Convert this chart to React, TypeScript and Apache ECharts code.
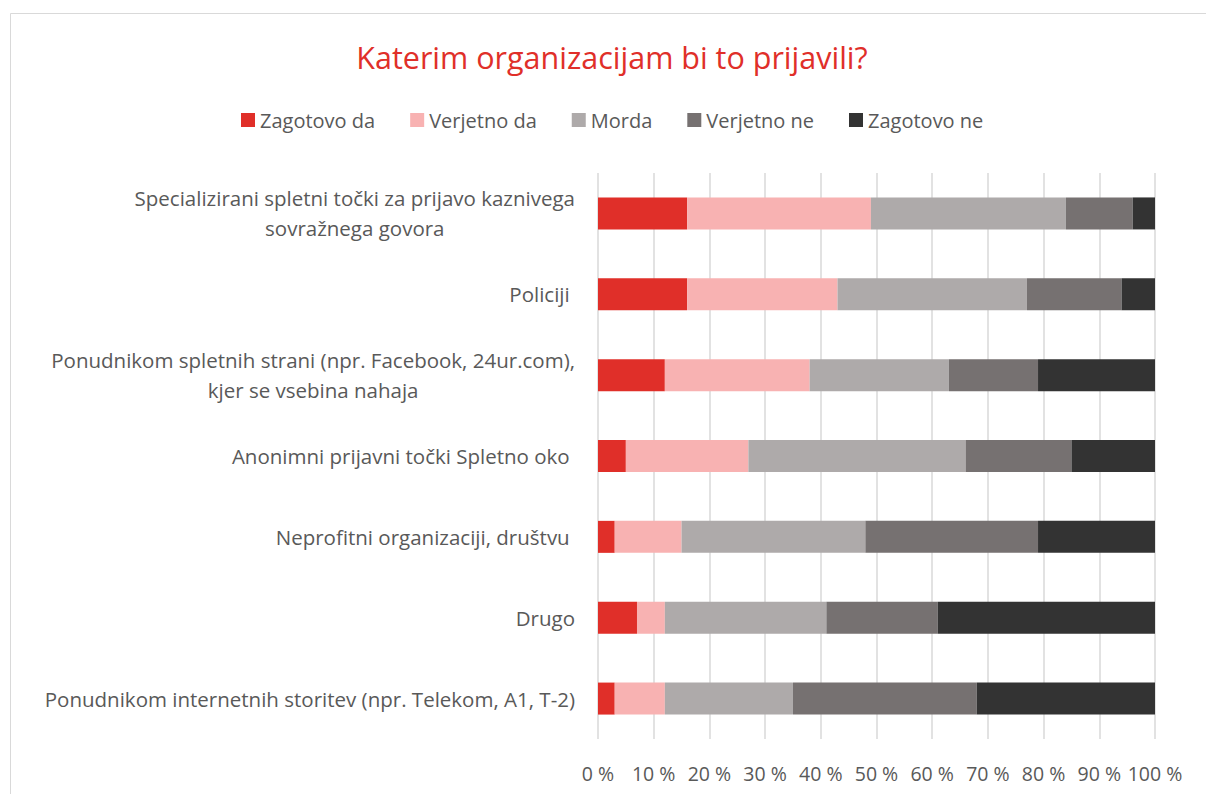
import React, { useEffect, useRef } from "react";
import * as echarts from "echarts";

const categories = [
  "Specializirani spletni točki za prijavo kaznivega\nsovražnega govora",
  "Policiji ",
  "Ponudnikom spletnih strani (npr. Facebook, 24ur.com),\nkjer se vsebina nahaja",
  "Anonimni prijavni točki Spletno oko ",
  "Neprofitni organizaciji, društvu ",
  "Drugo",
  "Ponudnikom internetnih storitev (npr. Telekom, A1, T-2)",
];

const seriesNames = ["Zagotovo da", "Verjetno da", "Morda", "Verjetno ne", "Zagotovo ne"];
const zagotovoDa = [16, 16, 12, 5, 3, 7, 3];
const verjetnoDa = [33, 27, 26, 22, 12, 5, 9];
const morda = [35, 34, 25, 39, 33, 29, 23];
const verjetnoNe = [12, 17, 16, 19, 31, 20, 33];
const zagotovoNe = [4, 6, 21, 15, 21, 39, 32];
const xTicks = [0, 10, 20, 30, 40, 50, 60, 70, 80, 90, 100];

const colors = ["#E02F29", "#F8B2B2", "#AEAAAA", "#767171", "#333333"];

export default function App() {
  const ref = useRef<HTMLDivElement>(null);
  useEffect(() => {
    if (!ref.current) return;
    const chart = echarts.init(ref.current, null, { renderer: "svg" });
    const font = "'Open Sans', sans-serif";
    const values = [zagotovoDa, verjetnoDa, morda, verjetnoNe, zagotovoNe];
    chart.setOption({
      animation: false,
      backgroundColor: "#ffffff",
      textStyle: { fontFamily: font },
      title: {
        text: "Katerim organizacijam bi to prijavili?",
        left: 607,
        textAlign: "center",
        top: 36,
        textStyle: { color: "#E02F29", fontSize: 30.5, fontWeight: "normal", fontFamily: font },
      },
      legend: {
        data: seriesNames,
        top: 105,
        left: 236,
        itemWidth: 14,
        itemHeight: 14,
        itemGap: 35,
        icon: "rect",
        textStyle: { color: "#595959", fontSize: 20, fontFamily: font },
      },
      graphic: [
        {
          type: "rect",
          shape: { x: 10.5, y: 13.5, width: 1210, height: 800 },
          style: { fill: "none", stroke: "#D9D9D9", lineWidth: 1 },
          silent: true,
        },
      ],
      grid: { left: 598, right: 51, top: 173, bottom: 55, containLabel: false },
      xAxis: {
        type: "value",
        min: 0,
        max: 100,
        interval: 10,
        axisLine: { show: false },
        axisTick: { show: false },
        splitLine: { show: true, lineStyle: { color: "#D9D9D9", width: 1.5 } },
        axisLabel: {
          color: "#595959",
          fontSize: 19.5,
          margin: 24,
          fontFamily: font,
          formatter: (v: number) => (xTicks.includes(v) ? v + " %" : ""),
        },
      },
      yAxis: {
        type: "category",
        data: categories,
        inverse: true,
        axisLine: { show: false },
        axisTick: { show: false },
        axisLabel: {
          color: "#595959",
          fontSize: 20.5,
          margin: 23,
          lineHeight: 30,
          fontFamily: font,
          formatter: (v: string) =>
            v
              .split("\n")
              .map((l) => "{c|" + l + "}")
              .join("\n"),
          rich: {
            c: { align: "center", color: "#595959", fontSize: 20.5, lineHeight: 30, fontFamily: font },
          },
        },
      },
      series: seriesNames.map((name, i) => ({
        name,
        type: "bar",
        stack: "total",
        barWidth: 32,
        data: values[i],
        itemStyle: { color: colors[i] },
      })),
    });
    return () => chart.dispose();
  }, []);
  return (
    <div
      ref={ref}
      style={{ position: "absolute", left: 0, top: 0, width: 1206, height: 794 }}
    />
  );
}
